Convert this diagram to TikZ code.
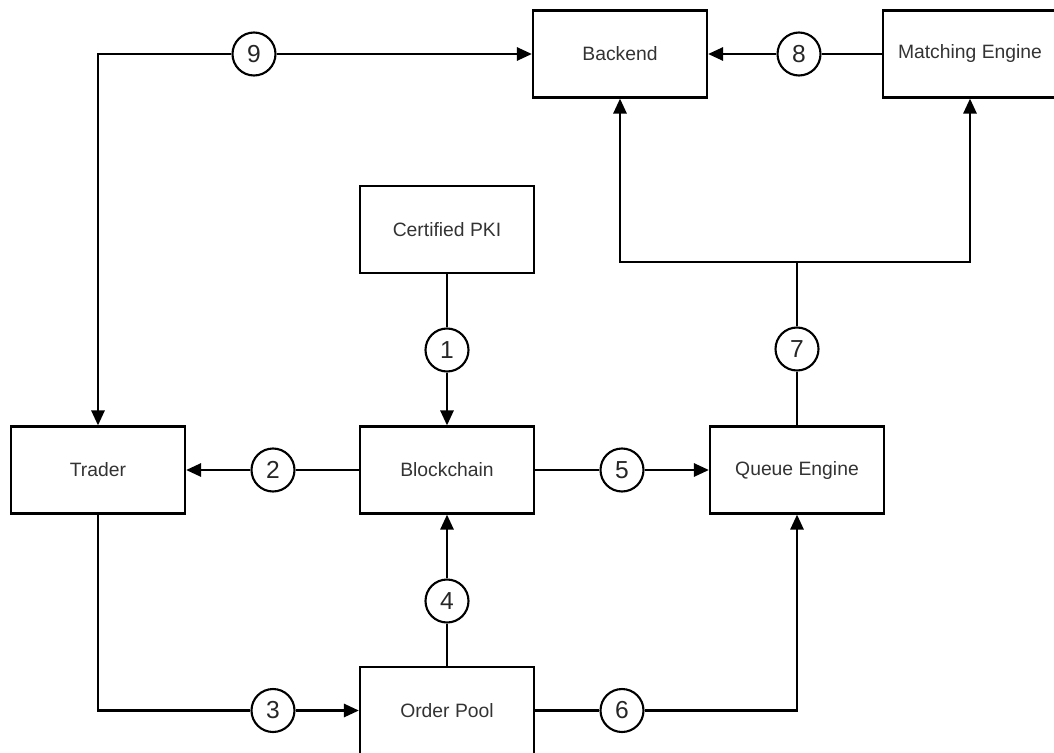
\documentclass[tikz,border=0pt]{standalone}
\usepackage{fontspec}
\setmainfont{Liberation Sans}
\usetikzlibrary{arrows.meta}
\begin{document}
\begin{tikzpicture}[
  box/.style={draw, line width=1.3pt, minimum width=3.48cm, minimum height=1.74cm,
    text=black!80, font=\fontsize{11}{13}\selectfont},
  num/.style={draw, circle, line width=1.2pt, minimum size=0.86cm, inner sep=0pt,
    text=black!85, font=\fontsize{14}{16}\selectfont},
  plain/.style={line width=1.3pt},
  link/.style={plain, -{Triangle[length=8.5pt,width=7.5pt]}}]
  \useasboundingbox (0,0) rectangle (21.08,-15.04);
  % boxes
  \node[box] (backend) at (12.40,-1.08) {Backend};
  \node[box] (match) at (19.40,-1.08) {Matching Engine};
  \node[box] (pki) at (8.94,-4.59) {Certified PKI};
  \node[box] (trader) at (1.96,-9.40) {Trader};
  \node[box] (chain) at (8.94,-9.40) {Blockchain};
  \node[box] (queue) at (15.94,-9.40) {Queue Engine};
  \node[box] (pool) at (8.94,-14.21) {Order Pool};
  % step numbers
  \node[num] (n1) at (8.94,-7.00) {1};
  \node[num] (n2) at (5.46,-9.40) {2};
  \node[num] (n3) at (5.46,-14.21) {3};
  \node[num] (n4) at (8.94,-12.02) {4};
  \node[num] (n5) at (12.44,-9.40) {5};
  \node[num] (n6) at (12.44,-14.21) {6};
  \node[num] (n7) at (15.94,-6.98) {7};
  \node[num] (n8) at (15.98,-1.08) {8};
  \node[num] (n9) at (5.08,-1.08) {9};
  \coordinate (split) at (15.94,-5.24);
  % connectors
  \draw[plain] (pki) -- (n1); \draw[link] (n1) -- (chain);
  \draw[plain] (chain) -- (n2); \draw[link] (n2) -- (trader);
  \draw[plain] (trader) |- (n3); \draw[link] (n3) -- (pool);
  \draw[plain] (pool) -- (n4); \draw[link] (n4) -- (chain);
  \draw[plain] (chain) -- (n5); \draw[link] (n5) -- (queue);
  \draw[plain] (pool) -- (n6); \draw[link] (n6) -| (queue);
  \draw[plain] (queue) -- (n7) -- (split);
  \draw[link] (split) -| (backend);
  \draw[link] (split) -| (match);
  \draw[plain] (match) -- (n8); \draw[link] (n8) -- (backend);
  \draw[link] (n9) -- (backend);
  \draw[link] (n9) -| (trader);
\end{tikzpicture}
\end{document}
